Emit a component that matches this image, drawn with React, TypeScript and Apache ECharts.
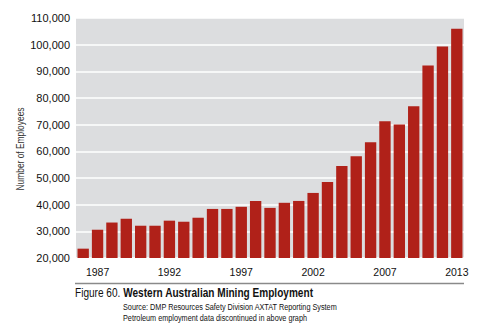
import React, { useEffect, useRef } from "react";
import * as echarts from "echarts";

const years = [
  "1986", "1987", "1988", "1989", "1990", "1991", "1992", "1993", "1994",
  "1995", "1996", "1997", "1998", "1999", "2000", "2001", "2002", "2003",
  "2004", "2005", "2006", "2007", "2008", "2009", "2010", "2011", "2013",
];
const employees = [
  23500, 30600, 33300, 34700, 32100, 32100, 34000, 33600, 35100,
  38400, 38400, 39200, 41400, 38800, 40700, 41400, 44400, 48500,
  54500, 58200, 63400, 71300, 70100, 76900, 92200, 99300, 106000,
];
const labelledYears = ["1987", "1992", "1997", "2002", "2007", "2013"];
const yMin = 20000;
const yMax = 110000;
const yStep = 10000;

const sans = "'Liberation Sans', Arial, sans-serif";

export default function App() {
  const ref = useRef<HTMLDivElement>(null);
  useEffect(() => {
    if (!ref.current) return;
    const chart = echarts.init(ref.current, null, { renderer: "svg" });
    chart.setOption({
      animation: false,
      backgroundColor: "#ffffff",
      grid: {
        left: 76,
        right: 17,
        top: 18,
        bottom: 67,
        show: true,
        backgroundColor: "#dcdddf",
        borderWidth: 0,
      },
      xAxis: {
        type: "category",
        data: years,
        axisLine: { show: false },
        axisTick: { show: false },
        axisLabel: {
          interval: (i: number, v: string) => labelledYears.includes(v),
          color: "#111",
          fontFamily: sans,
          fontSize: 10.5,
          margin: 8,
        },
        splitLine: { show: false },
      },
      yAxis: {
        type: "value",
        min: yMin,
        max: yMax,
        interval: yStep,
        axisLine: { show: false },
        axisTick: { show: false },
        axisLabel: {
          formatter: (v: number) => v.toLocaleString("en-US"),
          color: "#111",
          fontFamily: sans,
          fontSize: 11,
          margin: 6,
        },
        splitLine: { show: true, lineStyle: { color: "#ffffff", width: 1.5 } },
      },
      series: [
        {
          type: "bar",
          data: employees,
          barWidth: "79%",
          itemStyle: { color: "#b02119" },
        },
      ],
      graphic: [
        {
          type: "text",
          x: 21,
          y: 149,
          rotation: Math.PI / 2,
          scaleX: 0.84,
          style: {
            text: "Number of Employees",
            fontFamily: sans,
            fontSize: 10,
            fill: "#333",
            align: "center",
            verticalAlign: "middle",
          },
        },
        {
          type: "line",
          shape: { x1: 75, y1: 283.5, x2: 464, y2: 283.5 },
          style: { stroke: "#8a8a8a", lineWidth: 1.5 },
        },
        {
          type: "text",
          x: 75,
          y: 293,
          scaleX: 0.84,
          style: {
            text: "{r|Figure 60. }{b|Western Australian Mining Employment}",
            verticalAlign: "middle",
            rich: {
              r: { fontFamily: sans, fontSize: 12, fill: "#111" },
              b: { fontFamily: sans, fontSize: 12, fontWeight: "bold", fill: "#111" },
            },
          },
        },
        {
          type: "text",
          x: 123,
          y: 307.5,
          scaleX: 0.81,
          style: {
            text: "Source: DMP Resources Safety Division AXTAT Reporting System",
            fontFamily: sans,
            fontSize: 9,
            fill: "#111",
            verticalAlign: "middle",
          },
        },
        {
          type: "text",
          x: 123,
          y: 318,
          scaleX: 0.81,
          style: {
            text: "Petroleum employment data discontinued in above graph",
            fontFamily: sans,
            fontSize: 9,
            fill: "#111",
            verticalAlign: "middle",
          },
        },
      ],
    });
    return () => chart.dispose();
  }, []);
  return (
    <div
      ref={ref}
      style={{ position: "fixed", left: 0, top: 0, width: 481, height: 325 }}
    />
  );
}
